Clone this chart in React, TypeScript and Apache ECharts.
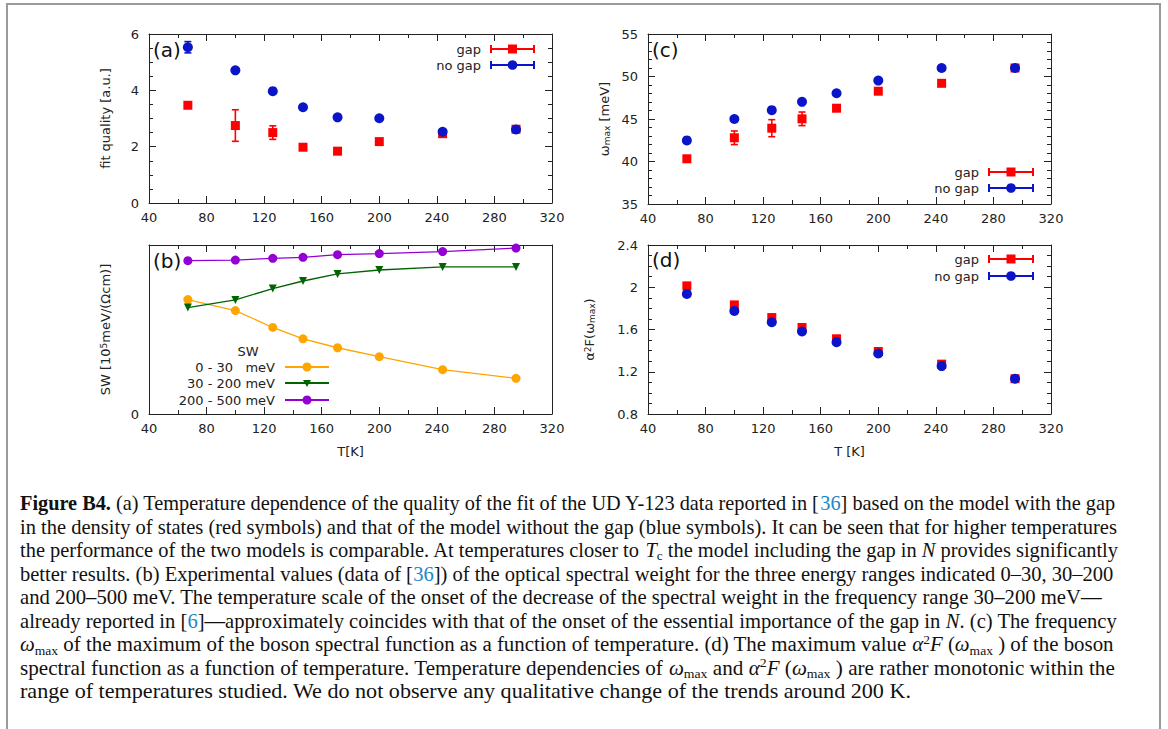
import React, { useEffect, useRef } from "react";
import * as echarts from "echarts";

const T = [67, 100, 126, 147, 171, 200, 244, 295];
const xTicks = { min: 40, max: 320, interval: 40 };

const fitGap = [3.47, 2.75, 2.5, 1.98, 1.84, 2.18, 2.46, 2.62];
const fitGapErr = [0, 0.56, 0.24, 0, 0, 0, 0, 0];
const fitNoGap = [5.53, 4.71, 3.97, 3.4, 3.04, 3.01, 2.53, 2.61];
const fitNoGapErr = [0.2, 0, 0, 0, 0, 0, 0, 0];

const swLow = [67.7, 61.2, 51.2, 44.5, 39.2, 33.9, 26.2, 21.1];
const swMid = [63.0, 67.5, 74.2, 78.7, 82.9, 85.2, 87.0, 87.0];
const swHigh = [90.7, 91.1, 92.1, 92.7, 94.3, 94.9, 96.1, 98.2];
const swLabels = ["0 - 30   meV", "30 - 200 meV", "200 - 500 meV"];

const wGap = [40.32, 42.79, 43.92, 45.02, 46.27, 48.27, 49.2, 51.0];
const wGapErr = [0.25, 0.8, 1.0, 0.8, 0, 0, 0, 0];
const wNoGap = [42.48, 45.0, 46.04, 47.02, 48.03, 49.52, 51.0, 51.0];
const wNoGapErr = [0.25, 0, 0, 0, 0, 0, 0, 0];

const aGap = [2.013, 1.833, 1.713, 1.619, 1.512, 1.392, 1.272, 1.134];
const aNoGap = [1.937, 1.776, 1.669, 1.581, 1.48, 1.373, 1.254, 1.134];

const captionLines = [
  "{b|Figure B4.} (a) Temperature dependence of the quality of the fit of the UD Y-123 data reported in [{r|36}] based on the model with the gap",
  "in the density of states (red symbols) and that of the model without the gap (blue symbols). It can be seen that for higher temperatures",
  "the performance of the two models is comparable. At temperatures closer to {i|T}{sub|c} the model including the gap in {i|N} provides significantly",
  "better results. (b) Experimental values (data of [{r|36}]) of the optical spectral weight for the three energy ranges indicated 0–30, 30–200",
  "and 200–500 meV. The temperature scale of the onset of the decrease of the spectral weight in the frequency range 30–200 meV—",
  "already reported in [{r|6}]—approximately coincides with that of the onset of the essential importance of the gap in {i|N}. (c) The frequency",
  "{i|ω}{sub|max} of the maximum of the boson spectral function as a function of temperature. (d) The maximum value {i|α}{sup|2}{i|F} ({i|ω}{sub|max} ) of the boson",
  "spectral function as a function of temperature. Temperature dependencies of {i|ω}{sub|max} and {i|α}{sup|2}{i|F} ({i|ω}{sub|max} ) are rather monotonic within the",
  "range of temperatures studied. We do not observe any qualitative change of the trends around 200 K.",
];
const captionRight = [1115, 1117, 1118, 1114, 1103, 1117, 1114, 1115, 912];

const RED = "#ff0000";
const BLUE = "#0a14c8";
const ORANGE = "#ffa500";
const GREEN = "#006400";
const PURPLE = "#9400d3";
const AXC = "#222";
const SANS = "DejaVu Sans";
const SERIF = "Liberation Serif";
const CAP_FS = 20;

const grids = [
  { left: 149, top: 34, width: 403, height: 169 }, // a
  { left: 149, top: 245, width: 403, height: 169 }, // b
  { left: 648, top: 34, width: 403, height: 170 }, // c
  { left: 648, top: 245, width: 403, height: 169 }, // d
];

const richAxis = {
  s: { fontSize: 9, verticalAlign: "bottom", lineHeight: 10, fontFamily: SANS, color: AXC },
  p: { fontSize: 9, verticalAlign: "top", lineHeight: 10, fontFamily: SANS, color: AXC },
};

function xAxes(gi: number, name: string) {
  const common = {
    type: "value",
    gridIndex: gi,
    min: xTicks.min,
    max: xTicks.max,
    interval: xTicks.interval,
    splitLine: { show: false },
    axisLine: { onZero: false, lineStyle: { color: AXC, width: 1 } },
    axisTick: { inside: true, length: 7, lineStyle: { color: AXC } },
    minorTick: { show: true, splitNumber: 2, length: 4, lineStyle: { color: AXC } },
  };
  return [
    {
      ...common,
      position: "bottom",
      name,
      nameLocation: "middle",
      nameGap: 31,
      nameTextStyle: { fontSize: 13, fontFamily: SANS, color: AXC },
      axisLabel: { fontSize: 13, fontFamily: SANS, color: AXC, margin: 8 },
    },
    { ...common, position: "top", axisLabel: { show: false } },
  ];
}

function yAxes(gi: number, min: number, max: number, interval: number, minorSplit: number, name: string, nameGap: number, showTicks = true, formatter?: any) {
  const common = {
    type: "value",
    gridIndex: gi,
    min,
    max,
    interval,
    splitLine: { show: false },
    axisLine: { onZero: false, lineStyle: { color: AXC, width: 1 } },
    axisTick: { show: showTicks, inside: true, length: 7, lineStyle: { color: AXC } },
    minorTick: { show: showTicks, splitNumber: minorSplit, length: 4, lineStyle: { color: AXC } },
  };
  return [
    {
      ...common,
      position: "left",
      name,
      nameLocation: "middle",
      nameGap,
      nameTextStyle: { fontSize: 13, fontFamily: SANS, color: AXC, rich: richAxis },
      axisLabel: { fontSize: 13, fontFamily: SANS, color: AXC, margin: 10, formatter },
    },
    { ...common, position: "right", axisLabel: { show: false } },
  ];
}

function pts(v: number[]) {
  return T.map((t, i) => [t, v[i]]);
}

function errData(v: number[], e: number[]) {
  const out: number[][] = [];
  T.forEach((t, i) => {
    if (e[i] > 0) out.push([t, v[i] - e[i], v[i] + e[i]]);
  });
  return out;
}

function errSeries(gi: number, v: number[], e: number[], color: string) {
  return {
    type: "custom",
    xAxisIndex: gi * 2,
    yAxisIndex: gi * 2,
    data: errData(v, e),
    encode: { x: 0, y: [1, 2] },
    z: 2,
    renderItem: (params: any, api: any) => {
      const x = api.value(0);
      const lo = api.coord([x, api.value(1)]);
      const hi = api.coord([x, api.value(2)]);
      const w = 3.5;
      const st = { stroke: color, lineWidth: 1.6 };
      return {
        type: "group",
        children: [
          { type: "line", shape: { x1: lo[0], y1: lo[1], x2: hi[0], y2: hi[1] }, style: st },
          { type: "line", shape: { x1: hi[0] - w, y1: hi[1], x2: hi[0] + w, y2: hi[1] }, style: st },
          { type: "line", shape: { x1: lo[0] - w, y1: lo[1], x2: lo[0] + w, y2: lo[1] }, style: st },
        ],
      };
    },
  };
}

function scatter(gi: number, v: number[], color: string, symbol: string, size: number, z: number) {
  return {
    type: "scatter",
    xAxisIndex: gi * 2,
    yAxisIndex: gi * 2,
    data: pts(v),
    symbol,
    symbolSize: size,
    itemStyle: { color, opacity: 1 },
    z,
  };
}

function lineSeries(gi: number, v: number[], color: string, symbol: string, size: number, rotate = 0) {
  return {
    type: "line",
    xAxisIndex: gi * 2,
    yAxisIndex: gi * 2,
    data: pts(v),
    symbol,
    symbolSize: size,
    symbolRotate: rotate,
    showSymbol: true,
    lineStyle: { color, width: 1.3 },
    itemStyle: { color, borderWidth: 0 },
    z: 3,
  };
}

function errLegend(textRight: number, y: number, label: string, color: string, square: boolean, x1: number, x2: number) {
  const cx = (x1 + x2) / 2;
  const st = { stroke: color, lineWidth: 2 };
  const items: any[] = [
    { type: "text", x: textRight, y, style: { text: label, align: "right", verticalAlign: "middle", fontSize: 13, fontFamily: SANS, fill: AXC } },
    { type: "line", shape: { x1, y1: y, x2, y2: y }, style: st },
    { type: "line", shape: { x1, y1: y - 4, x2: x1, y2: y + 4 }, style: st },
    { type: "line", shape: { x1: x2, y1: y - 4, x2, y2: y + 4 }, style: st },
  ];
  if (square) items.push({ type: "rect", shape: { x: cx - 4.5, y: y - 4.5, width: 9, height: 9 }, style: { fill: color } });
  else items.push({ type: "circle", shape: { cx, cy: y, r: 4.8 }, style: { fill: color } });
  return items;
}

function swLegend(y: number, label: string, color: string, tri: boolean) {
  const x1 = 285, x2 = 329, cx = 307;
  const items: any[] = [
    { type: "text", x: 275, y, style: { text: label, align: "right", verticalAlign: "middle", fontSize: 13, fontFamily: SANS, fill: AXC } },
    { type: "line", shape: { x1, y1: y, x2, y2: y }, style: { stroke: color, lineWidth: 2 } },
  ];
  if (tri) items.push({ type: "polygon", shape: { points: [[cx - 4, y - 3], [cx + 4, y - 3], [cx, y + 4]] }, style: { fill: color } });
  else items.push({ type: "circle", shape: { cx, cy: y, r: 4.5 }, style: { fill: color } });
  return items;
}

const captionRich = {
  b: { fontFamily: SERIF, fontWeight: "bold", fontSize: CAP_FS, fill: "#111" },
  r: { fontFamily: SERIF, fontSize: CAP_FS, fill: "#1a87c9" },
  i: { fontFamily: SERIF, fontStyle: "italic", fontSize: CAP_FS, fill: "#111" },
  sub: { fontFamily: SERIF, fontSize: 13, verticalAlign: "bottom", lineHeight: 14, fill: "#111" },
  sup: { fontFamily: SERIF, fontSize: 13, verticalAlign: "top", lineHeight: 14, fill: "#111" },
};

function captionStyle(line: string) {
  return {
    text: line,
    fontSize: CAP_FS,
    fontFamily: SERIF,
    fill: "#111",
    verticalAlign: "middle",
    lineHeight: 24,
    rich: captionRich,
  };
}

export default function App() {
  const ref = useRef<HTMLDivElement>(null);
  useEffect(() => {
    document.body.style.margin = "0";
    const chart = echarts.init(ref.current as HTMLDivElement, null, { renderer: "svg" });

    const xAxis = [...xAxes(0, ""), ...xAxes(1, "T[K]"), ...xAxes(2, ""), ...xAxes(3, "T [K]")];
    const yAxis = [
      ...yAxes(0, 0, 6, 2, 4, "fit quality [a.u.]", 37),
      ...yAxes(1, 0, 100, 100, 2, "SW [10{p|5}meV/(Ωcm)]", 37, false, (v: number) => (v === 0 ? "0" : "")),
      ...yAxes(2, 35, 55, 5, 5, "ω{s|max} [meV]", 37),
      ...yAxes(3, 0.8, 2.4, 0.4, 4, "α{p|2}F(ω{s|max})", 52, true, (v: number) => String(Math.round(v * 10) / 10)),
    ];

    const series: any[] = [
      errSeries(0, fitGap, fitGapErr, RED),
      scatter(0, fitGap, RED, "rect", 9, 3),
      errSeries(0, fitNoGap, fitNoGapErr, BLUE),
      scatter(0, fitNoGap, BLUE, "circle", 10, 4),

      lineSeries(1, swLow, ORANGE, "circle", 9),
      lineSeries(1, swMid, GREEN, "triangle", 8, 180),
      lineSeries(1, swHigh, PURPLE, "circle", 9),

      errSeries(2, wGap, wGapErr, RED),
      scatter(2, wGap, RED, "rect", 9, 3),
      errSeries(2, wNoGap, wNoGapErr, BLUE),
      scatter(2, wNoGap, BLUE, "circle", 10, 4),

      scatter(3, aGap, RED, "rect", 9, 3),
      scatter(3, aNoGap, BLUE, "circle", 10, 4),
    ];

    const panelLabel = (x: number, y: number, t: string) => ({
      type: "text",
      x,
      y,
      z: 10,
      style: { text: t, fontSize: 20, fontFamily: SANS, fill: "#111", verticalAlign: "middle" },
    });

    const capLeft = 20;
    const caption = captionLines.map((line, i) => {
      const style = captionStyle(line);
      let sx = 1;
      try {
        const probe = new (echarts.graphic as any).Text({ style });
        const w = probe.getBoundingRect().width;
        if (w > 0) sx = (captionRight[i] - capLeft) / w;
      } catch (e) {
        sx = 1;
      }
      return {
        type: "text",
        x: capLeft,
        y: 503 + i * 23.6,
        scaleX: sx,
        style,
      };
    });

    const graphic: any[] = [
      { type: "rect", shape: { x: 7, y: 4, width: 1153, height: 800 }, style: { fill: "none", stroke: "#9a9a9a", lineWidth: 2 }, silent: true },
      panelLabel(153, 50, "(a)"),
      panelLabel(153, 261, "(b)"),
      panelLabel(652, 50, "(c)"),
      panelLabel(652, 260, "(d)"),
      ...errLegend(481, 49, "gap", RED, true, 491, 534),
      ...errLegend(481, 65, "no gap", BLUE, false, 491, 534),
      ...errLegend(979, 172, "gap", RED, true, 989, 1033),
      ...errLegend(979, 188, "no gap", BLUE, false, 989, 1033),
      ...errLegend(979, 259, "gap", RED, true, 989, 1033),
      ...errLegend(979, 276, "no gap", BLUE, false, 989, 1033),
      { type: "text", x: 248, y: 351, style: { text: "SW", align: "center", verticalAlign: "middle", fontSize: 13, fontFamily: SANS, fill: AXC } },
      ...swLegend(367, swLabels[0], ORANGE, false),
      ...swLegend(383, swLabels[1], GREEN, true),
      ...swLegend(400, swLabels[2], PURPLE, false),
      ...caption,
    ];

    chart.setOption({
      animation: false,
      backgroundColor: "#ffffff",
      grid: grids,
      xAxis,
      yAxis,
      series,
      graphic,
    });
    return () => chart.dispose();
  }, []);
  return <div ref={ref} style={{ width: 1168, height: 729 }} />;
}
